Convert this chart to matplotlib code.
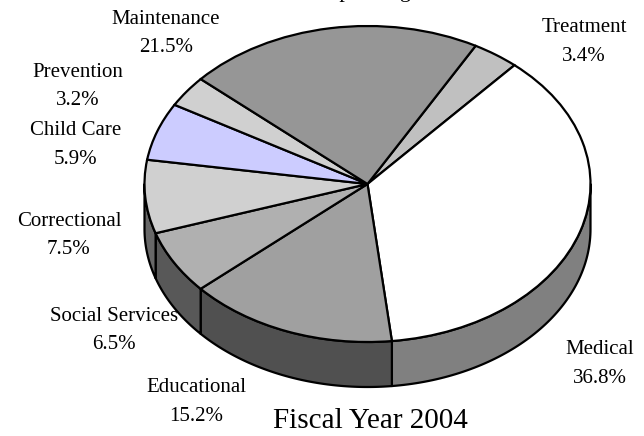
"""Fiscal year 2004 spending shares as a tilted 3D pie."""

import matplotlib

matplotlib.use("Agg")
import matplotlib.pyplot as plt
import matplotlib.transforms as mtransforms
import numpy as np

categories = [
    "Treatment",
    "Medical",
    "Educational",
    "Social Services",
    "Correctional",
    "Child Care",
    "Prevention",
    "Maintenance",
]
shares = [3.4, 36.8, 15.2, 6.5, 7.5, 5.9, 3.2, 21.5]
top_colors = ["#c0c0c0", "#ffffff", "#a0a0a0", "#b0b0b0", "#d0d0d0", "#ccccff", "#d0d0d0", "#969696"]
side_colors = ["#606060", "#808080", "#505050", "#585858", "#686868", "#666680", "#686868", "#4b4b4b"]
label_pos = [
    (584, 42),
    (600, 364),
    (196, 402),
    (114, 330.5),
    (69, 235.5),
    (76, 145),
    (78, 86.5),
    (166, 33.5),
]

W, H = 644, 436
CX, CY, RX, RY = 367.5, 184, 223, 158
DEPTH = 45
START = 29  # degrees clockwise from twelve o'clock

plt.rcParams["font.family"] = ["Liberation Serif", "DejaVu Serif"]

fig = plt.figure(figsize=(W / 100, H / 100), dpi=100)
ax = fig.add_axes([0, 0, 1, 1])

# rim first, so the top face covers its upper edge
edges = START + np.cumsum([0] + shares) * 3.6
for i in range(len(shares)):
    lo, hi = max(edges[i], 90), min(edges[i + 1], 270)
    if lo >= hi:
        continue
    t = np.radians(np.linspace(lo, hi, 80))
    x = CX + RX * np.sin(t)
    y = CY - RY * np.cos(t)
    ax.fill(
        np.r_[x, x[::-1]],
        np.r_[y, y[::-1] + DEPTH],
        facecolor=side_colors[i],
        edgecolor="black",
        linewidth=1.6,
        joinstyle="round",
    )

# top face: a unit pie squashed into an ellipse, y flipped for the downward axis
wedges, _ = ax.pie(
    shares,
    colors=top_colors,
    startangle=90 - START,
    counterclock=False,
    wedgeprops={"edgecolor": "black", "linewidth": 1.6},
)
ax.set_aspect("auto")
squash = mtransforms.Affine2D().scale(RX, -RY).translate(CX, CY)
for w in wedges:
    w.set_transform(squash + ax.transData)

ax.set_xlim(0, W)
ax.set_ylim(H, 0)
ax.axis("off")

for name, share, (lx, ly) in zip(categories, shares, label_pos):
    ax.text(lx, ly, f"{name}\n{share}%", ha="center", va="center", fontsize=15, linespacing=1.65, color="black")

ax.text(370, 421, "Fiscal Year 2004", ha="center", va="center", fontsize=21)
# heading sits mostly above the top edge, only its descenders show
ax.text(370, -7, "Spending", ha="center", va="center", fontsize=16)

fig.savefig("out.png", dpi=100)
plt.close(fig)
